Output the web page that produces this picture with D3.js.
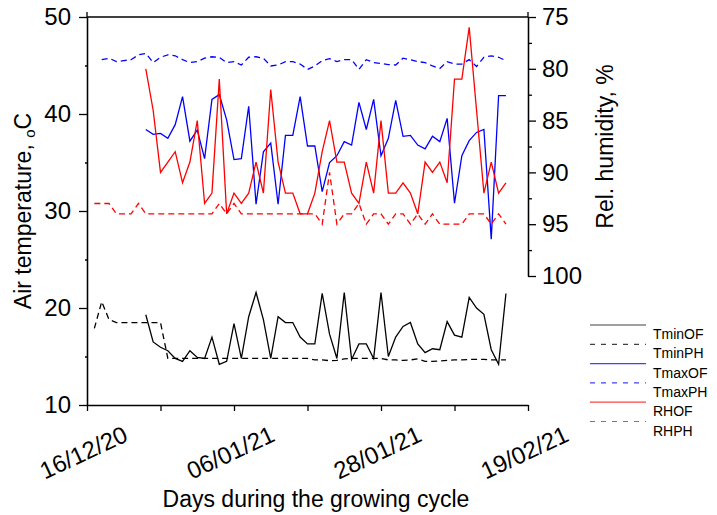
<!DOCTYPE html>
<html>
<head>
<meta charset="utf-8">
<script src="https://cdn.jsdelivr.net/npm/d3@7"></script>
<style>
  body { margin: 0; background: #fff; }
  text { font-family: "Liberation Sans", Arial, sans-serif; fill: #000; }
</style>
</head>
<body>
<div id="chart"></div>
<script>
var vWidth = 717;
var vHeight = 515;

// x axis: day index of the cycle, tick every 10, label every 20
var dayTicks = [0, 10, 20, 30, 40, 50, 60];
var labelDays = [0, 20, 40, 60];
var tickLabels = ["16/12/20", "06/01/21", "28/01/21", "19/02/21"];

// left axis (air temperature) and right axis (relative humidity)
var tempTicks = [10, 20, 30, 40, 50];
var tempMinor = [15, 25, 35, 45];
var rhTicks = [75, 80, 85, 90, 95, 100];
var rhMinor = [77.5, 82.5, 87.5, 92.5, 97.5];

// series: first day index + daily values
var tminOFStart = 8;
var tminOF = [19.3, 16.5, 15.95, 15.6, 14.8, 14.5, 15.6, 14.9, 14.8, 17.0,
  14.2, 14.5, 18.4, 14.8, 19.1, 21.6, 18.8, 14.8, 19.1, 18.5,
  18.5, 17.0, 16.3, 16.3, 21.5, 17.3, 14.8, 21.6, 14.7, 16.3,
  16.3, 14.8, 21.6, 15.0, 17.0, 18.1, 18.5, 16.3, 15.4, 15.8,
  15.7, 18.6, 17.2, 17.0, 21.1, 20.0, 19.35, 15.7, 14.2, 21.5];

var tminPHStart = 1;
var tminPH = [17.9, 20.65, 18.8, 18.5, 18.5, 18.5, 18.5, 18.5, 18.5, 18.5,
  14.8, 14.8, 14.8, 14.8, 14.8, 14.8, 14.8, 14.8, 14.8, 14.8,
  14.8, 14.8, 14.8, 14.8, 14.8, 14.8, 14.8, 14.8, 14.8, 14.8,
  14.65, 14.65, 14.57, 14.6, 14.75, 14.8, 14.8, 14.8, 14.8, 14.8,
  14.65, 14.65, 14.6, 14.65, 14.75, 14.5, 14.5, 14.55, 14.6, 14.65,
  14.65, 14.7, 14.7, 14.7, 14.65, 14.65, 14.65];

var tmaxOFStart = 8;
var tmaxOF = [38.4, 37.9, 38.0, 37.5, 38.9, 41.8, 37.2, 38.35, 35.4, 41.5,
  42.0, 39.4, 35.3, 35.4, 40.8, 30.7, 36.1, 37.0, 30.7, 37.8,
  37.8, 41.8, 36.7, 36.7, 32.0, 35.0, 35.7, 37.15, 36.8, 41.2,
  38.4, 41.5, 35.7, 37.5, 41.4, 37.7, 37.8, 36.8, 36.4, 37.7,
  37.15, 39.55, 30.8, 35.7, 37.25, 38.1, 38.4, 27.1, 41.9, 41.9];

var tmaxPHStart = 2;
var tmaxPH = [45.6, 45.75, 45.4, 45.5, 45.6, 46.1, 46.25, 45.3, 45.85, 46.1,
  46.0, 45.6, 45.3, 45.4, 45.75, 45.9, 45.85, 45.3, 45.4, 45.05,
  45.85, 45.9, 45.75, 44.95, 45.05, 45.4, 45.4, 45.15, 44.6, 44.95,
  45.5, 45.7, 45.4, 45.6, 45.6, 44.6, 45.6, 45.3, 45.2, 45.1,
  45.05, 45.75, 45.6, 45.4, 45.3, 44.95, 44.7, 45.4, 45.15, 45.15,
  45.6, 44.9, 45.85, 46.0, 45.85, 45.5];

var rhOFStart = 8;
var rhOF = [80, 84, 90, 89, 88, 91, 89, 85, 93, 92,
  81, 94, 92, 93, 92, 89, 92, 82, 89, 92,
  92, 94, 94, 92, 88, 85, 89, 89, 92, 93,
  89, 92, 85, 92, 92, 91, 92, 94, 89, 90,
  89, 91, 81, 81, 76, 84, 92, 89, 92, 91];

var rhPHStart = 1;
var rhPH = [93, 93, 93, 94, 94, 94, 93, 94, 94, 94,
  94, 94, 94, 94, 94, 94, 94, 93, 94, 93,
  94, 94, 94, 94, 94, 94, 94, 94, 94, 94,
  94, 95, 90, 95, 94, 94, 93, 95, 94, 94,
  95, 94, 94, 95, 94, 95, 94, 95, 95, 95,
  95, 94, 94, 94, 95, 94, 95];

var seriesNames = ["TminOF", "TminPH", "TmaxOF", "TmaxPH", "RHOF", "RHPH"];

// scales
var x = d3.scaleLinear().domain([0, 60]).range([87, 528]);
var yT = d3.scaleLinear().domain([10, 50]).range([405, 17]);
var yH = d3.scaleLinear().domain([75, 100]).range([17, 276]);

var svg = d3.select("#chart")
    .append("svg")
        .attr("width", vWidth)
        .attr("height", vHeight);

function toPoints(start, values) {
    return values.map(function (v, i) { return { d: start + i, v: v }; });
}

var series = [
    { name: "TminOF", pts: toPoints(tminOFStart, tminOF), y: yT, color: "#000000", dash: null },
    { name: "TminPH", pts: toPoints(tminPHStart, tminPH), y: yT, color: "#000000", dash: "6,4" },
    { name: "TmaxOF", pts: toPoints(tmaxOFStart, tmaxOF), y: yT, color: "#0000ff", dash: null },
    { name: "TmaxPH", pts: toPoints(tmaxPHStart, tmaxPH), y: yT, color: "#0000ff", dash: "6,4" },
    { name: "RHOF", pts: toPoints(rhOFStart, rhOF), y: yH, color: "#ff0000", dash: null },
    { name: "RHPH", pts: toPoints(rhPHStart, rhPH), y: yH, color: "#ff0000", dash: "6,4" }
];

// frame line on top and vertical axis lines
svg.append("line")
    .attr("x1", x(0)).attr("x2", x(60))
    .attr("y1", yT(50)).attr("y2", yT(50))
    .attr("stroke", "#000").attr("stroke-width", 1.3);

// left axis
var gL = svg.append("g").attr("transform", "translate(" + x(0) + ",0)");
gL.call(d3.axisLeft(yT).tickValues(tempTicks).tickSize(8).tickSizeOuter(0).tickPadding(8));
gL.append("g").call(d3.axisLeft(yT).tickValues(tempMinor).tickSize(2).tickSizeOuter(0).tickFormat(""));
gL.selectAll("text").style("font-size", "24px").attr("fill", "#000");

// right axis
var gR = svg.append("g").attr("transform", "translate(" + x(60) + ",0)");
gR.call(d3.axisRight(yH).tickValues(rhTicks).tickSize(8).tickSizeOuter(0).tickPadding(6));
gR.append("g").call(d3.axisRight(yH).tickValues(rhMinor).tickSize(4).tickSizeOuter(0).tickFormat(""));
gR.selectAll("text").style("font-size", "24px").attr("fill", "#000");

// bottom axis
var gB = svg.append("g").attr("transform", "translate(0," + yT(10) + ")");
gB.call(d3.axisBottom(x).tickValues(dayTicks).tickSize(6).tickSizeOuter(0).tickFormat(""));

svg.selectAll(".domain, .tick line").attr("stroke", "#000").attr("stroke-width", 1.3);

// small overshoot of both vertical axes above the top frame
svg.selectAll(".vext")
    .data([x(0), x(60)])
    .enter().append("line")
        .attr("x1", function (d) { return d; }).attr("x2", function (d) { return d; })
        .attr("y1", yT(50) - 5).attr("y2", yT(50))
        .attr("stroke", "#000").attr("stroke-width", 1.3);

// rotated date labels
svg.selectAll(".xlab")
    .data(labelDays)
    .enter().append("text")
        .attr("transform", function (d) { return "translate(" + x(d) + "," + (yT(10) + 55) + ") rotate(-25)"; })
        .attr("text-anchor", "middle")
        .style("font-size", "24px")
        .text(function (d, i) { return tickLabels[i]; });

// axis titles
var tL = svg.append("text")
    .attr("transform", "translate(31," + ((yT(10) + yT(50)) / 2) + ") rotate(-90)")
    .attr("text-anchor", "middle")
    .style("font-size", "23px");
tL.append("tspan").text("Air temperature, ");
tL.append("tspan").attr("dy", 4).style("font-size", "15px").text("o");
tL.append("tspan").attr("dy", -4).text("C");

svg.append("text")
    .attr("transform", "translate(613," + ((yH(75) + yH(100)) / 2) + ") rotate(-90)")
    .attr("text-anchor", "middle")
    .style("font-size", "23px")
    .text("Rel. humidity, %");

svg.append("text")
    .attr("x", 316).attr("y", 507)
    .attr("text-anchor", "middle")
    .style("font-size", "23px")
    .text("Days during the growing cycle");

// data lines
var line = function (s) {
    return d3.line()
        .x(function (p) { return x(p.d); })
        .y(function (p) { return s.y(p.v); })(s.pts);
};

svg.selectAll(".series")
    .data(series)
    .enter().append("path")
        .attr("d", line)
        .attr("fill", "none")
        .attr("stroke", function (s) { return s.color; })
        .attr("stroke-width", 1.3)
        .attr("stroke-dasharray", function (s) { return s.dash; });

// legend
var lg = svg.append("g").attr("transform", "translate(590,325)");
var item = lg.selectAll("g")
    .data(series)
    .enter().append("g")
        .attr("transform", function (s, i) { return "translate(0," + (i * 19.3) + ")"; });
item.append("line")
    .attr("x1", 0).attr("x2", 56)
    .attr("stroke", function (s) { return s.color; })
    .attr("stroke-opacity", 0.75)
    .attr("stroke-width", 1.2)
    .attr("stroke-dasharray", function (s) { return s.dash ? "5,6" : null; });
item.append("text")
    .attr("x", 63).attr("y", 14)
    .style("font-size", "14px")
    .text(function (s, i) { return seriesNames[i]; });
</script>
</body>
</html>
